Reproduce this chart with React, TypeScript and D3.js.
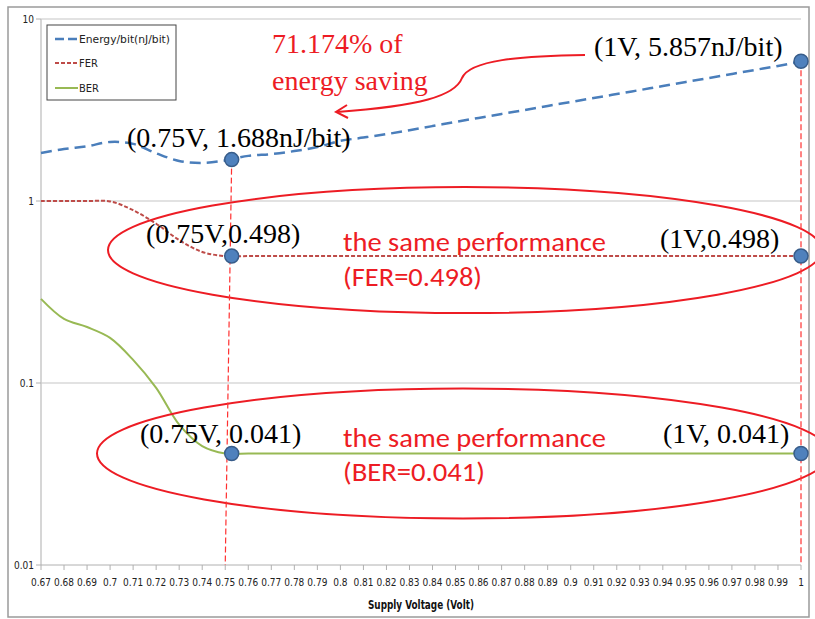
import React from "react";
import * as d3 from "d3";

// supply voltage (V), one point per 0.01 V
const voltages = [
  0.67, 0.68, 0.69, 0.7, 0.71, 0.72, 0.73, 0.74, 0.75, 0.76, 0.77, 0.78, 0.79, 0.8, 0.81, 0.82, 0.83,
  0.84, 0.85, 0.86, 0.87, 0.88, 0.89, 0.9, 0.91, 0.92, 0.93, 0.94, 0.95, 0.96, 0.97, 0.98, 0.99, 1.0,
];
const energy = [
  1.835, 1.93, 2.0, 2.11, 2.06, 1.83, 1.66, 1.62, 1.67, 1.77, 1.81, 1.88, 1.98, 2.14, 2.23, 2.33, 2.45,
  2.58, 2.72, 2.86, 3.01, 3.16, 3.33, 3.5, 3.68, 3.87, 4.07, 4.28, 4.51, 4.74, 4.99, 5.25, 5.52, 5.857,
];
const fer = [
  1.0, 1.0, 1.0, 0.995, 0.89, 0.75, 0.61, 0.525, 0.498, 0.498, 0.498, 0.498, 0.498, 0.498, 0.498, 0.498, 0.498,
  0.498, 0.498, 0.498, 0.498, 0.498, 0.498, 0.498, 0.498, 0.498, 0.498, 0.498, 0.498, 0.498, 0.498, 0.498, 0.498, 0.498,
];
const ber = [
  0.29, 0.225, 0.203, 0.177, 0.134, 0.094, 0.059, 0.045, 0.041, 0.041, 0.041, 0.041, 0.041, 0.041, 0.041, 0.041, 0.041,
  0.041, 0.041, 0.041, 0.041, 0.041, 0.041, 0.041, 0.041, 0.041, 0.041, 0.041, 0.041, 0.041, 0.041, 0.041, 0.041, 0.041,
];
const yTicks = [10, 1, 0.1, 0.01];
const yTickLabels = ["10", "1", "0.1", "0.01"];

// highlighted points: [voltage as drawn, value]
const highlights = [
  { v: 0.7528, value: 1.688 },
  { v: 1.0, value: 5.857 },
  { v: 0.7528, value: 0.498 },
  { v: 1.0, value: 0.498 },
  { v: 0.7528, value: 0.041 },
  { v: 1.0, value: 0.041 },
];

const W = 815;
const H = 619;
const RED = "#ed1c24";
const serif = "'Liberation Serif', 'Times New Roman', serif";
const narrow = "'Liberation Sans Narrow', 'DejaVu Sans Condensed', 'Arial Narrow', sans-serif";
const sans = "Carlito, Lato, 'Open Sans', sans-serif";

export default function App() {
  const x = d3.scaleLinear().domain([0.67, 1.0]).range([41, 801]);
  const y = d3.scaleLog().domain([0.01, 10]).range([565, 19]);

  const line = (vals: number[]) =>
    d3
      .line<number>()
      .x((_, i) => x(voltages[i]))
      .y((d) => y(d))
      .curve(d3.curveCatmullRom.alpha(0.5))(vals) || "";

  const fmt = (v: number) => String(+v.toFixed(2));

  return (
    <div style={{ position: "absolute", left: 0, top: 0 }}>
      <svg width={W} height={H} style={{ display: "block", background: "#fff" }}>
        {/* outer frame */}
        <rect x={8} y={7} width={801} height={610} fill="none" stroke="#9a9a9a" strokeWidth={1.5} />

        {/* gridlines */}
        {yTicks.slice(0, 3).map((t) => (
          <line key={t} x1={x(0.67)} x2={x(1.0)} y1={y(t)} y2={y(t)} stroke="#d9d9d9" strokeWidth={1.5} />
        ))}
        {/* axes */}
        <line x1={x(0.67)} x2={x(0.67)} y1={y(10)} y2={y(0.01)} stroke="#c8c8c8" strokeWidth={1.5} />
        <line x1={x(0.67)} x2={x(1.0)} y1={y(0.01)} y2={y(0.01)} stroke="#b0b0b0" strokeWidth={1} />
        {yTicks.map((t, i) => (
          <g key={t}>
            <line x1={x(0.67) - 5} x2={x(0.67)} y1={y(t)} y2={y(t)} stroke="#b0b0b0" />
            <text x={x(0.67) - 7} y={y(t) + 3.5} textAnchor="end" fontFamily={narrow} fontSize={10} fill="#222">
              {yTickLabels[i]}
            </text>
          </g>
        ))}
        {voltages.map((v) => (
          <g key={v}>
            <line x1={x(v)} x2={x(v)} y1={y(0.01)} y2={y(0.01) + 5} stroke="#b0b0b0" />
            <text x={x(v)} y={586} textAnchor="middle" fontFamily={narrow} fontSize={10} fill="#222">
              {fmt(v)}
            </text>
          </g>
        ))}
        <text x={421} y={609} textAnchor="middle" fontFamily={narrow} fontSize={12.5} fontWeight="bold" fill="#111" textLength={106} lengthAdjust="spacingAndGlyphs">
          Supply Voltage (Volt)
        </text>

        {/* series */}
        <path d={line(energy)} fill="none" stroke="#4a7ebb" strokeWidth={2.5} strokeDasharray="11,6" />
        <path d={line(fer)} fill="none" stroke="#be4b48" strokeWidth={2} strokeDasharray="4,2" />
        <path d={line(ber)} fill="none" stroke="#98b954" strokeWidth={2} />

        {/* legend */}
        <rect x={47} y={25} width={129} height={75} fill="#fff" stroke="#444" strokeWidth={1} />
        <line x1={55} x2={78} y1={39} y2={39} stroke="#4a7ebb" strokeWidth={2.5} strokeDasharray="9,4" />
        <line x1={55} x2={78} y1={63} y2={63} stroke="#be4b48" strokeWidth={2} strokeDasharray="4,2" />
        <line x1={55} x2={78} y1={88} y2={88} stroke="#98b954" strokeWidth={2} />
        <text x={79} y={43} fontFamily={narrow} fontSize={11} fill="#222" textLength={91} lengthAdjust="spacingAndGlyphs">Energy/bit(nJ/bit)</text>
        <text x={79} y={67} fontFamily={narrow} fontSize={11} fill="#222">FER</text>
        <text x={79} y={92} fontFamily={narrow} fontSize={11} fill="#222">BER</text>

        {/* ellipses */}
        <ellipse cx={465} cy={y(0.498) - 6} rx={357} ry={63} fill="none" stroke={RED} strokeWidth={2} />
        <ellipse cx={463} cy={y(0.041)} rx={366} ry={65} fill="none" stroke={RED} strokeWidth={2} />

        {/* dashed drop lines */}
        <line x1={x(0.7528)} y1={y(1.688)} x2={x(0.75)} y2={y(0.01)} stroke="#ff3030" strokeWidth={1.2} strokeDasharray="6,3" />
        <line x1={x(1.0)} y1={y(5.857)} x2={x(1.0)} y2={y(0.01)} stroke="#ff3030" strokeWidth={1.2} strokeDasharray="6,3" />

        {/* energy saving arrow */}
        <path d="M585,55 C520,56 470,60 462,78 C455,96 420,106 337,112" fill="none" stroke={RED} strokeWidth={2} />
        <path d="M347,105 L336,112 L348,118" fill="none" stroke={RED} strokeWidth={2} />

        {/* markers */}
        {highlights.map((h, i) => (
          <circle key={i} cx={x(h.v)} cy={y(h.value)} r={7} fill="#4f81bd" stroke="#385d8a" strokeWidth={1.5} />
        ))}

        {/* annotations */}
        <g fontFamily={serif} fontSize={28} fill="#000">
          <text x={127} y={147}>(0.75V, 1.688nJ/bit)</text>
          <text x={594} y={56}>(1V, 5.857nJ/bit)</text>
          <text x={146} y={243}>(0.75V,0.498)</text>
          <text x={660} y={248}>(1V,0.498)</text>
          <text x={140} y={443}>(0.75V, 0.041)</text>
          <text x={663} y={443}>(1V, 0.041)</text>
        </g>
        <g fontFamily={serif} fontSize={28} fill={RED}>
          <text x={272} y={53}>71.174% of</text>
          <text x={272} y={90}>energy saving</text>
        </g>
        <g fontFamily={sans} fontSize={26} fill={RED}>
          <text x={343} y={251} textLength={263} lengthAdjust="spacingAndGlyphs">the same performance</text>
          <text x={343} y={286} textLength={139} lengthAdjust="spacingAndGlyphs">(FER=0.498)</text>
          <text x={343} y={447} textLength={263} lengthAdjust="spacingAndGlyphs">the same performance</text>
          <text x={343} y={481} textLength={142} lengthAdjust="spacingAndGlyphs">(BER=0.041)</text>
        </g>
      </svg>
    </div>
  );
}
